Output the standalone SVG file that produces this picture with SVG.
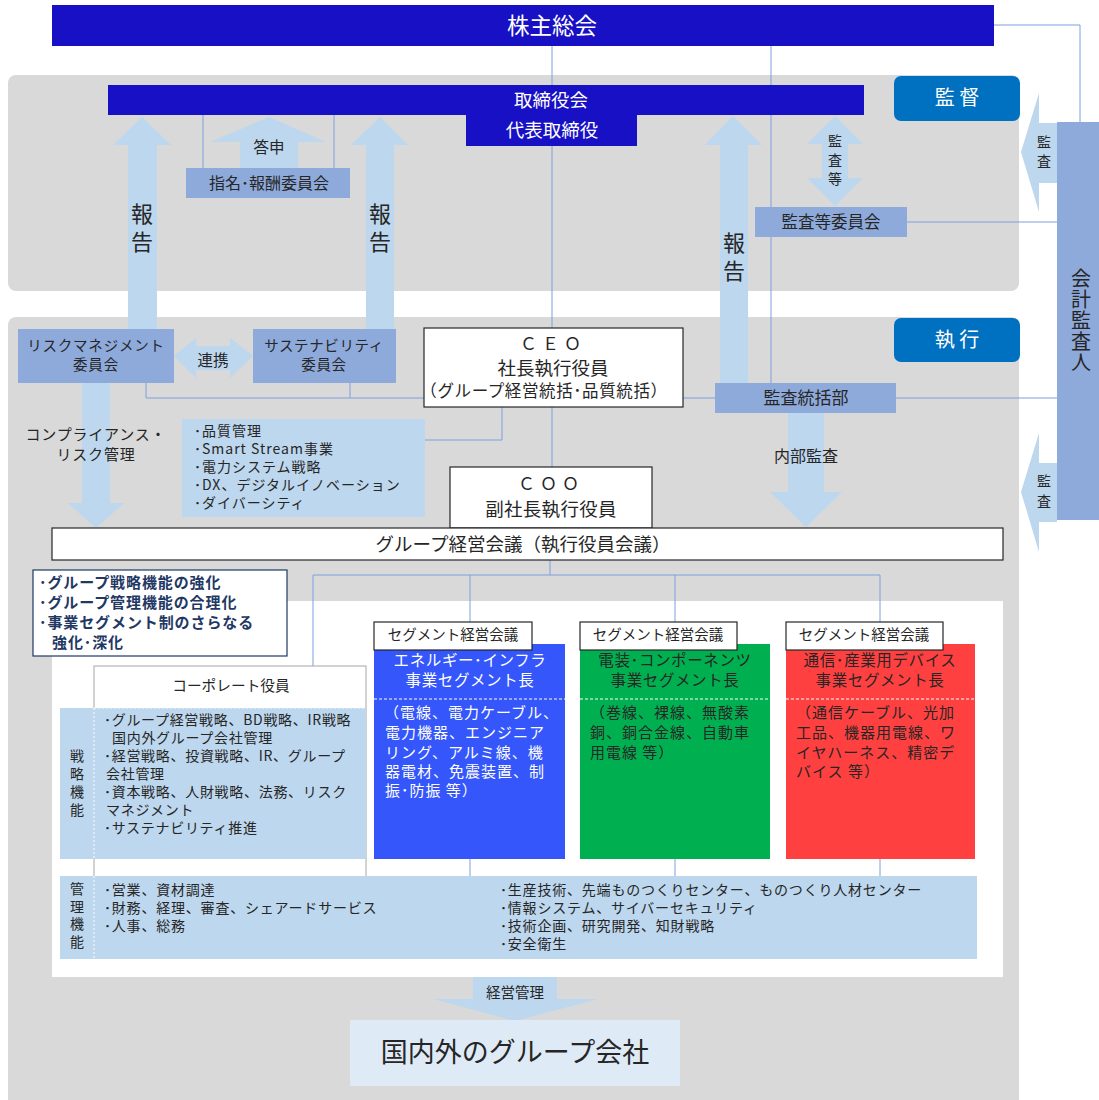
<svg xmlns="http://www.w3.org/2000/svg" width="1099" height="1100" viewBox="0 0 1099 1100">
<style>
text{font-family:"Noto Sans CJK JP","Noto Sans",sans-serif;dominant-baseline:central;fill:#262626;transform:translateY(-1.5px)}
.c{text-anchor:middle}
.v{writing-mode:vertical-rl}
.w{fill:#ffffff}
.navy{fill:#1810c4}
.cm{fill:#8eaadb}
.arr{fill:#bdd7ee}
.lbl{fill:#0070c0}
.ln{stroke:#7f9fdc;stroke-width:1;fill:none}
.bx{fill:#ffffff;stroke:#262626;stroke-width:1.2}
.pol{fill:#1f3864;font-weight:bold;font-size:15px;letter-spacing:0.9px}
.sb{font-size:15px;letter-spacing:1px}
.sh{font-size:15.5px;letter-spacing:0.6px}
</style>
<rect width="1099" height="1100" fill="#ffffff"/>
<g id="backgrounds">
<rect x="8" y="75" width="1011" height="216" rx="8" fill="#d9d9d9"/>
<rect x="8" y="317" width="1011" height="800" rx="8" fill="#d9d9d9"/>
<rect x="52" y="601" width="951" height="376" fill="#ffffff"/>
</g>
<g id="connectors">
<path class="ln" d="M994,25 H1080 V122"/>
<path class="ln" d="M552,46 V328"/>
<path class="ln" d="M771,46 V383"/>
<path class="ln" d="M203,115 V168 M334,115 V168"/>
<path class="ln" d="M907,222 H1057"/>
<path class="ln" d="M896,398 H1057"/>
<path class="ln" d="M683,398 H715"/>
<path class="ln" d="M146,383 V398 H424 M350,383 V398"/>
<path class="ln" d="M502,407 V440 H425"/>
<path class="ln" d="M552,407 V467"/>
<path class="ln" d="M550,560 V575 M313,575 H880 M313,575 V666 M470,575 V622 M675,575 V622 M880,575 V622"/>
<path class="ln" d="M470,859 V877 M675,859 V877 M880,859 V877"/>
</g>
<g id="arrows">
<polygon class="arr" points="142,117 171,145 157,145 157,329 128,329 128,145 113,145"/>
<polygon class="arr" points="380,117 408,145 394,145 394,329 366,329 366,145 351,145"/>
<polygon class="arr" points="733,116 762,145 748,145 748,383 720,383 720,145 705,145"/>
<polygon class="arr" points="269,117 326,142 298,142 298,168 240,168 240,142 210,142"/>
<polygon class="arr" points="835,116 863,144 848,144 848,178 863,178 835,206 807,178 822,178 822,144 807,144"/>
<polygon class="arr" points="1021,152 1039,93 1039,123 1057,123 1057,183 1039,183 1039,212"/>
<polygon class="arr" points="1021,492 1039,433 1039,463 1057,463 1057,522 1039,522 1039,552"/>
<polygon class="arr" points="174,356 196,338 196,346 230,346 230,338 253,356 230,378 230,370 196,370 196,378"/>
<polygon class="arr" points="82,383 110,383 110,503 124,503 96,528 68,503 82,503"/>
<polygon class="arr" points="788,413 824,413 824,492 842,492 806,527 770,492 788,492"/>
<polygon class="arr" points="473,977 557,977 557,999 598,999 515,1021 433,999 473,999"/>
<text class="v" x="142" y="204" font-size="22" letter-spacing="6">報告</text>
<text class="v" x="380" y="204" font-size="22" letter-spacing="6">報告</text>
<text class="v" x="734" y="233" font-size="22" letter-spacing="6">報告</text>
<text class="c" x="269" y="147" font-size="15.5">答申</text>
<text class="v" x="835" y="135" font-size="14" letter-spacing="5">監査等</text>
<text class="v" x="1044" y="136" font-size="14" letter-spacing="5.5">監査</text>
<text class="v" x="1044" y="475" font-size="14" letter-spacing="6">監査</text>
<text class="c" x="213" y="360" font-size="15.5">連携</text>
<text class="c" x="96" y="435" font-size="15" letter-spacing="0.8">コンプライアンス・</text>
<text class="c" x="96" y="455" font-size="15" letter-spacing="0.8">リスク管理</text>
<text class="c" x="806" y="456" font-size="16">内部監査</text>
<text class="c" x="515" y="993" font-size="14.5">経営管理</text>
</g>
<g id="shareholders">
<rect class="navy" x="52" y="5" width="942" height="41"/>
<text class="c w" x="552" y="25" font-size="22.5">株主総会</text>
</g>
<g id="supervision-label">
<rect class="lbl" x="894" y="76" width="126" height="45" rx="7"/>
<text class="c w" x="957" y="98" font-size="20">監 督</text>
</g>
<g id="execution-label">
<rect class="lbl" x="894" y="318" width="126" height="44" rx="7"/>
<text class="c w" x="957" y="340" font-size="20">執 行</text>
</g>
<g id="board">
<rect class="navy" x="108" y="85" width="756" height="30"/>
<rect class="navy" x="466" y="114" width="171" height="32"/>
<text class="c w" x="551" y="100" font-size="18.5">取締役会</text>
<text class="c w" x="552" y="130" font-size="18.5">代表取締役</text>
</g>
<g id="nomination">
<rect class="cm" x="186" y="168" width="164" height="30"/>
<text class="c" x="269" y="183" font-size="16">指名･報酬委員会</text>
</g>
<g id="audit-committee">
<rect class="cm" x="755" y="207" width="152" height="30"/>
<text class="c" x="831" y="222" font-size="16.5">監査等委員会</text>
</g>
<g id="accounting-auditor">
<rect class="cm" x="1057" y="122" width="42" height="398"/>
<text class="v" x="1081" y="270" font-size="20" letter-spacing="1">会計監査人</text>
</g>
<g id="risk">
<rect class="cm" x="18" y="329" width="156" height="54"/>
<text class="c" x="96" y="346" font-size="14.5" letter-spacing="0.8">リスクマネジメント</text>
<text class="c" x="96" y="365" font-size="14.5" letter-spacing="0.8">委員会</text>
</g>
<g id="sustainability">
<rect class="cm" x="253" y="329" width="143" height="54"/>
<text class="c" x="324" y="346" font-size="14.5" letter-spacing="0.6">サステナビリティ</text>
<text class="c" x="324" y="365" font-size="14.5" letter-spacing="0.6">委員会</text>
</g>
<g id="ceo">
<rect class="bx" x="424" y="328" width="259" height="79"/>
<text class="c" x="553" y="344" font-size="17" letter-spacing="5">ＣＥＯ</text>
<text class="c" x="553" y="368" font-size="18.5">社長執行役員</text>
<text class="c" x="544" y="391" font-size="16.5" letter-spacing="0.6">（グループ経営統括･品質統括）</text>
</g>
<g id="audit-dept">
<rect class="cm" x="715" y="383" width="181" height="30"/>
<text class="c" x="806" y="398" font-size="17">監査統括部</text>
</g>
<g id="ceo-tasks">
<rect class="arr" x="182" y="419" width="243" height="98"/>
<g font-size="14" letter-spacing="1">
<text x="194" y="431">･品質管理</text>
<text x="194" y="449">･Smart Stream事業</text>
<text x="194" y="467">･電力システム戦略</text>
<text x="194" y="485">･DX、デジタルイノベーション</text>
<text x="194" y="503">･ダイバーシティ</text>
</g>
</g>
<g id="coo">
<rect class="bx" x="450" y="467" width="202" height="61"/>
<text class="c" x="551" y="484" font-size="17" letter-spacing="5">ＣＯＯ</text>
<text class="c" x="551" y="509" font-size="18.5" letter-spacing="0.3">副社長執行役員</text>
</g>
<g id="group-meeting">
<rect class="bx" x="52" y="528" width="951" height="32"/>
<text class="c" x="523" y="544" font-size="18.5">グループ経営会議（執行役員会議）</text>
</g>
<g id="corporate">
<rect x="94" y="666" width="272" height="211" fill="#ffffff" stroke="#a6a6a6" stroke-width="1"/>
<text class="c" x="231" y="686" font-size="14.7">コーポレート役員</text>
<rect class="arr" x="60" y="708" width="306" height="151"/>
<line x1="94" y1="708" x2="94" y2="859" stroke="#ffffff" stroke-dasharray="2,2"/>
<line x1="94" y1="708" x2="366" y2="708" stroke="#ffffff" stroke-dasharray="2,2"/>
<text class="v" x="77" y="750" font-size="14" letter-spacing="4">戦略機能</text>
<g font-size="14" letter-spacing="0.7">
<text x="104" y="720">･グループ経営戦略、BD戦略、IR戦略</text>
<text x="112" y="738">国内外グループ会社管理</text>
<text x="104" y="756">･経営戦略、投資戦略、IR、グループ</text>
<text x="106" y="774">会社管理</text>
<text x="104" y="792">･資本戦略、人財戦略、法務、リスク</text>
<text x="106" y="810">マネジメント</text>
<text x="104" y="828">･サステナビリティ推進</text>
</g>
</g>
<g id="policy">
<rect x="33" y="570" width="254" height="86" fill="#ffffff" stroke="#1f3864" stroke-width="1.2"/>
<text class="pol" x="39" y="583">･グループ戦略機能の強化</text>
<text class="pol" x="39" y="603">･グループ管理機能の合理化</text>
<text class="pol" x="39" y="623">･事業セグメント制のさらなる</text>
<text class="pol" x="52" y="643">強化･深化</text>
</g>
<g id="segment-energy">
<rect x="374" y="644" width="191" height="215" fill="#3456fb"/>
<line x1="374" y1="699" x2="565" y2="699" stroke="#ffffff" stroke-dasharray="3,2"/>
<text class="c w sh" x="470" y="660">エネルギー･インフラ</text>
<text class="c w sh" x="470" y="680">事業セグメント長</text>
<g class="sb">
<text class="w" x="384" y="713">（電線、電力ケーブル、</text>
<text class="w" x="385" y="733">電力機器、エンジニア</text>
<text class="w" x="385" y="753">リング、アルミ線、機</text>
<text class="w" x="385" y="772">器電材、免震装置、制</text>
<text class="w" x="385" y="791">振･防振 等）</text>
</g>
<rect class="bx" x="374" y="622" width="158" height="28"/>
<text class="c" x="453" y="635" font-size="14.5">セグメント経営会議</text>
</g>
<g id="segment-components">
<rect x="580" y="644" width="190" height="215" fill="#00b050"/>
<line x1="580" y1="699" x2="770" y2="699" stroke="#ffffff" stroke-dasharray="3,2"/>
<text class="c sh" x="675" y="660">電装･コンポーネンツ</text>
<text class="c sh" x="675" y="680">事業セグメント長</text>
<g class="sb">
<text x="590" y="713">（巻線、裸線、無酸素</text>
<text x="590" y="733">銅、銅合金線、自動車</text>
<text x="590" y="753">用電線 等）</text>
</g>
<rect class="bx" x="580" y="622" width="157" height="28"/>
<text class="c" x="658" y="635" font-size="14.5">セグメント経営会議</text>
</g>
<g id="segment-devices">
<rect x="786" y="644" width="189" height="215" fill="#ff4040"/>
<line x1="786" y1="699" x2="975" y2="699" stroke="#ffffff" stroke-dasharray="3,2"/>
<text class="c sh" x="880" y="660">通信･産業用デバイス</text>
<text class="c sh" x="880" y="680">事業セグメント長</text>
<g class="sb">
<text x="796" y="713">（通信ケーブル、光加</text>
<text x="796" y="733">工品、機器用電線、ワ</text>
<text x="796" y="753">イヤハーネス、精密デ</text>
<text x="796" y="772">バイス 等）</text>
</g>
<rect class="bx" x="786" y="622" width="157" height="28"/>
<text class="c" x="864" y="635" font-size="14.5">セグメント経営会議</text>
</g>
<g id="management-functions">
<rect class="arr" x="60" y="876" width="917" height="83"/>
<line x1="94" y1="876" x2="94" y2="959" stroke="#ffffff" stroke-dasharray="2,2"/>
<text class="v" x="77" y="883" font-size="14" letter-spacing="3.7">管理機能</text>
<g font-size="14" letter-spacing="0.8">
<text x="104" y="890">･営業、資材調達</text>
<text x="104" y="908">･財務、経理、審査、シェアードサービス</text>
<text x="104" y="926">･人事、総務</text>
<text x="500" y="890">･生産技術、先端ものつくりセンター、ものつくり人材センター</text>
<text x="500" y="908">･情報システム、サイバーセキュリティ</text>
<text x="500" y="926">･技術企画、研究開発、知財戦略</text>
<text x="500" y="944">･安全衛生</text>
</g>
</g>
<g id="group-companies">
<rect x="350" y="1020" width="330" height="66" fill="#deebf7"/>
<text class="c" x="515" y="1052" font-size="27">国内外のグループ会社</text>
</g>
</svg>
